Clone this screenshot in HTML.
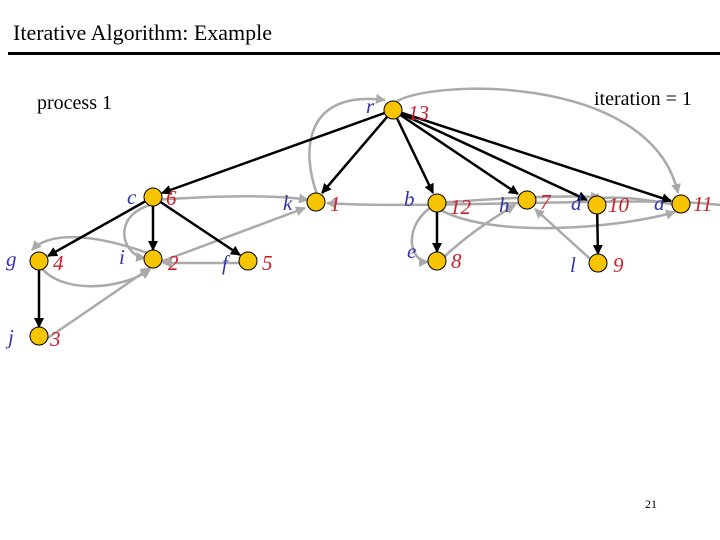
<!DOCTYPE html>
<html><head><meta charset="utf-8"><style>
body{margin:0;background:#fff}
svg{display:block}
.lb{font-family:"Liberation Serif",serif;font-style:italic;font-size:21px;fill:#3333aa}
.nm{font-family:"Liberation Serif",serif;font-style:italic;font-size:21px;fill:#cc1f2a}
</style></head><body>
<svg width="720" height="540" viewBox="0 0 720 540">
<defs>
<marker id="ak" markerWidth="10" markerHeight="10" refX="9" refY="5" orient="auto" markerUnits="userSpaceOnUse"><path d="M0,0 L10,5 L0,10 z" fill="#000"/></marker>
<marker id="ag" markerWidth="10" markerHeight="10" refX="9" refY="5" orient="auto" markerUnits="userSpaceOnUse"><path d="M0,0 L10,5 L0,10 z" fill="#aaa"/></marker>
</defs>
<text x="13" y="40" font-family="Liberation Serif,serif" font-size="22" fill="#000">Iterative Algorithm: Example</text>
<rect x="8" y="52" width="712" height="3" fill="#000"/>
<text x="37" y="109" font-family="Liberation Serif,serif" font-size="20">process 1</text>
<text x="594" y="105" font-family="Liberation Serif,serif" font-size="20">iteration = 1</text>
<text x="645" y="508" font-family="Liberation Serif,serif" font-size="12">21</text>
<g fill="none" stroke="#aaa" stroke-width="2.5" marker-end="url(#ag)">
<path d="M318,197 C300,150 305,90 385,100"/>
<path d="M395,103 C420,80 650,70 678,193"/>
<path d="M153,200 C230,195 280,195 308,200"/>
<path d="M160,262 L305,208"/>
<path d="M720,205 C650,195 420,210 327,203"/>
<path d="M248,263 L163,263"/>
<path d="M153,255 C80,228 45,236 32,250"/>
<path d="M39,265 C60,295 120,290 150,270"/>
<path d="M45,340 L150,268"/>
<path d="M160,203 C110,210 120,255 145,258"/>
<path d="M437,203 C400,225 410,262 428,262"/>
<path d="M437,264 C460,240 490,220 515,205"/>
<path d="M437,203 C480,200 540,195 600,197"/>
<path d="M437,208 C490,240 620,228 675,212"/>
<path d="M681,206 C650,200 620,195 590,199"/>
<path d="M598,266 L535,209"/>
</g>
<g stroke="#000" stroke-width="2.5" marker-end="url(#ak)">
<line x1="393" y1="110" x2="162" y2="193"/>
<line x1="393" y1="110" x2="322" y2="193"/>
<line x1="393" y1="110" x2="433" y2="193"/>
<line x1="393" y1="110" x2="518" y2="194"/>
<line x1="393" y1="110" x2="587" y2="200"/>
<line x1="393" y1="110" x2="671" y2="201"/>
<line x1="153" y1="197" x2="48" y2="256"/>
<line x1="153" y1="197" x2="153" y2="250"/>
<line x1="153" y1="197" x2="240" y2="255"/>
<line x1="39" y1="261" x2="39" y2="327"/>
<line x1="437" y1="203" x2="437" y2="252"/>
<line x1="597" y1="205" x2="598" y2="254"/>
</g>
<g fill="#f7c400" stroke="#000" stroke-width="1">
<circle cx="393" cy="110" r="9"/><circle cx="153" cy="197" r="9"/><circle cx="316" cy="202" r="9"/>
<circle cx="437" cy="203" r="9"/><circle cx="527" cy="200" r="9"/><circle cx="597" cy="205" r="9"/>
<circle cx="681" cy="204" r="9"/><circle cx="39" cy="261" r="9"/><circle cx="153" cy="259" r="9"/>
<circle cx="248" cy="261" r="9"/><circle cx="437" cy="261" r="9"/><circle cx="598" cy="263" r="9"/>
<circle cx="39" cy="336" r="9"/>
</g>
<g class="lb">
<text x="366" y="113">r</text><text x="127" y="204">c</text><text x="283" y="210">k</text>
<text x="404" y="206">b</text><text x="499" y="212">h</text><text x="571" y="210">d</text>
<text x="654" y="210">a</text><text x="6" y="266">g</text><text x="119" y="264">i</text>
<text x="222" y="270">f</text><text x="407" y="258">e</text><text x="570" y="272">l</text>
<text x="8" y="344">j</text>
</g>
<g class="nm">
<text x="408" y="120">13</text><text x="166" y="205">6</text><text x="330" y="211">1</text>
<text x="450" y="214">12</text><text x="540" y="209">7</text><text x="608" y="212">10</text>
<text x="693" y="211">11</text><text x="53" y="270">4</text><text x="168" y="270">2</text>
<text x="262" y="270">5</text><text x="451" y="268">8</text><text x="613" y="272">9</text>
<text x="50" y="346">3</text>
</g>
</svg>
</body></html>
